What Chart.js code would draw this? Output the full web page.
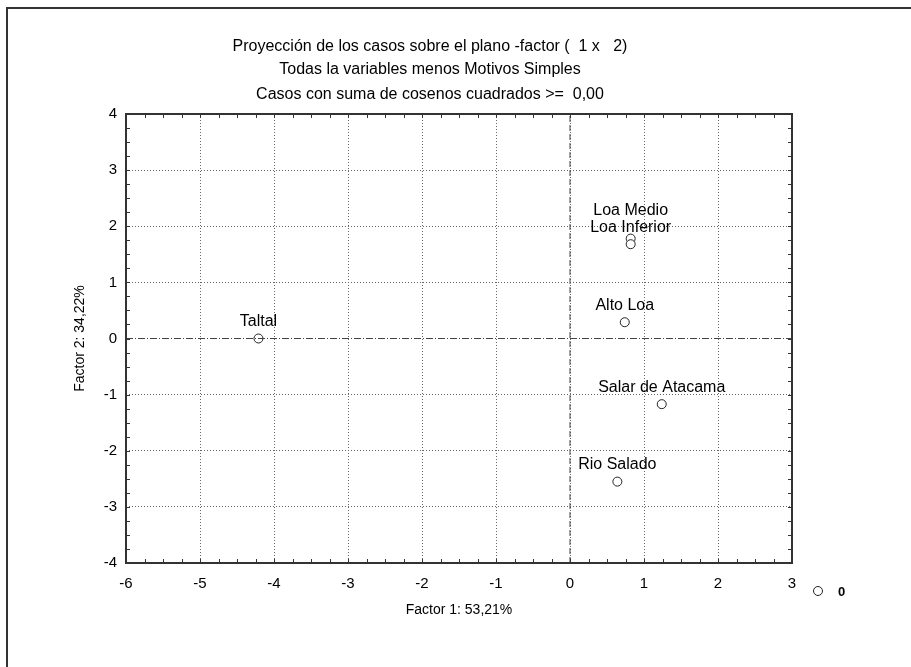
<!DOCTYPE html>
<html>
<head>
<meta charset="utf-8">
<script src="https://cdn.jsdelivr.net/npm/chart.js@4.4.1/dist/chart.umd.min.js"></script>
<style>
  html, body { margin: 0; padding: 0; background: #fff; }
  #wrap { width: 911px; height: 667px; position: relative; }
</style>
</head>
<body>
<div id="wrap"><canvas id="chart" width="911" height="667"></canvas></div>
<script>
// Titles and axis names
const titleLines = [
  "Proyección de los casos sobre el plano -factor (  1 x   2)",
  "Todas la variables menos Motivos Simples",
  "Casos con suma de cosenos cuadrados >=  0,00"
];
const xTitle = "Factor 1: 53,21%";
const yTitle = "Factor 2: 34,22%";
const seriesName = "0";

// Cases and their coordinates on the factor plane
const caseNames = ["Taltal", "Loa Medio", "Loa Inferior", "Alto Loa", "Salar de Atacama", "Rio Salado"];
const factor1 = [-4.21, 0.82, 0.82, 0.74, 1.24, 0.64];
const factor2 = [0.00, 1.78, 1.68, 0.29, -1.17, -2.55];

// Axis ranges
const xRange = [-6, 3];
const yRange = [-4, 4];

const FONT = "'Liberation Sans', Arial, sans-serif";

const points = caseNames.map((n, i) => ({ x: factor1[i], y: factor2[i] }));

// Extra drawing: frame, titles, plot box, minor ticks, point labels, legend
const decorPlugin = {
  id: "decor",
  afterDraw(chart) {
    const ctx = chart.ctx;
    const ca = chart.chartArea;
    const xs = chart.scales.x;
    const ys = chart.scales.y;
    ctx.save();

    // outer frame (left and top edges visible)
    ctx.strokeStyle = "#333";
    ctx.lineWidth = 2;
    ctx.beginPath();
    ctx.moveTo(7, 667);
    ctx.lineTo(7, 8);
    ctx.lineTo(911, 8);
    ctx.stroke();

    // titles
    ctx.fillStyle = "#000";
    ctx.font = "16px " + FONT;
    ctx.textAlign = "center";
    ctx.textBaseline = "middle";
    const titleY = [47, 70, 95];
    titleLines.forEach((t, i) => ctx.fillText(t, 430, titleY[i]));

    // plot box
    ctx.strokeStyle = "#333";
    ctx.lineWidth = 2;
    ctx.strokeRect(ca.left, ca.top, ca.right - ca.left, ca.bottom - ca.top);

    // inward ticks every 0.25
    ctx.lineWidth = 1;
    ctx.beginPath();
    for (let v = xRange[0]; v <= xRange[1] + 1e-9; v += 0.25) {
      const px = Math.round(xs.getPixelForValue(v)) + 0.5;
      ctx.moveTo(px, ca.bottom); ctx.lineTo(px, ca.bottom - 4);
      ctx.moveTo(px, ca.top); ctx.lineTo(px, ca.top + 4);
    }
    for (let v = yRange[0]; v <= yRange[1] + 1e-9; v += 0.25) {
      const py = Math.round(ys.getPixelForValue(v)) + 0.5;
      ctx.moveTo(ca.left, py); ctx.lineTo(ca.left + 4, py);
      ctx.moveTo(ca.right, py); ctx.lineTo(ca.right - 4, py);
    }
    ctx.stroke();

    // point labels, pushed up when they collide
    const meta = chart.getDatasetMeta(2);
    ctx.font = "16px " + FONT;
    ctx.textAlign = "center";
    ctx.textBaseline = "middle";
    const order = caseNames.map((n, i) => i).sort((a, b) => meta.data[b].y - meta.data[a].y);
    const placed = [];
    order.forEach((i) => {
      const el = meta.data[i];
      const w = ctx.measureText(caseNames[i]).width;
      let ly = el.y - 17;
      let moved = true;
      while (moved) {
        moved = false;
        for (const p of placed) {
          if (Math.abs(p.x - el.x) < (p.w + w) / 2 && Math.abs(p.y - ly) < 16) {
            ly = p.y - 17;
            moved = true;
          }
        }
      }
      placed.push({ x: el.x, y: ly, w: w });
      ctx.fillStyle = "#000";
      ctx.fillText(caseNames[i], el.x, ly);
    });

    // legend
    const lx = ca.right + 26;
    const ly = ca.bottom + 28;
    ctx.strokeStyle = "#222";
    ctx.fillStyle = "#fff";
    ctx.beginPath();
    ctx.arc(lx, ly, 4.5, 0, Math.PI * 2);
    ctx.fill();
    ctx.stroke();
    ctx.fillStyle = "#000";
    ctx.font = "bold 13px " + FONT;
    ctx.textAlign = "left";
    ctx.fillText(seriesName, lx + 20, ly + 1);

    ctx.restore();
  }
};

new Chart(document.getElementById("chart"), {
  type: "scatter",
  data: {
    datasets: [
      {
        type: "line",
        label: "eje x",
        data: [{ x: xRange[0], y: 0 }, { x: xRange[1], y: 0 }],
        borderColor: "#444",
        borderWidth: 1,
        borderDash: [7, 2, 1, 2],
        pointRadius: 0,
        showLine: true
      },
      {
        type: "line",
        label: "eje y",
        data: [{ x: 0, y: yRange[0] }, { x: 0, y: yRange[1] }],
        borderColor: "#444",
        borderWidth: 1,
        borderDash: [6, 3],
        pointRadius: 0,
        showLine: true
      },
      {
        label: seriesName,
        data: points,
        pointStyle: "circle",
        pointRadius: 4.5,
        borderColor: "#222",
        backgroundColor: "#fff",
        borderWidth: 1
      }
    ]
  },
  options: {
    responsive: false,
    animation: false,
    devicePixelRatio: 1,
    layout: { padding: { left: 72, top: 114, right: 119, bottom: 48 } },
    plugins: {
      legend: { display: false },
      title: { display: false },
      tooltip: { enabled: false }
    },
    scales: {
      x: {
        type: "linear",
        min: xRange[0],
        max: xRange[1],
        afterFit: (s) => { s.height = 56; },
        ticks: { stepSize: 1, color: "#000", font: { family: FONT, size: 15 }, padding: 12 },
        grid: { color: "#666", lineWidth: 1, drawTicks: false },
        border: { display: false, dash: [1, 2] },
        title: { display: true, text: xTitle, color: "#000", font: { family: FONT, size: 14 }, padding: 0 }
      },
      y: {
        type: "linear",
        min: yRange[0],
        max: yRange[1],
        afterFit: (s) => { s.width = 54; },
        ticks: { stepSize: 1, color: "#000", font: { family: FONT, size: 15 }, padding: 9 },
        grid: { color: "#666", lineWidth: 1, drawTicks: false },
        border: { display: false, dash: [1, 2] },
        title: { display: true, text: yTitle, color: "#000", font: { family: FONT, size: 14 }, padding: 0 }
      }
    }
  },
  plugins: [decorPlugin]
});
</script>
</body>
</html>
